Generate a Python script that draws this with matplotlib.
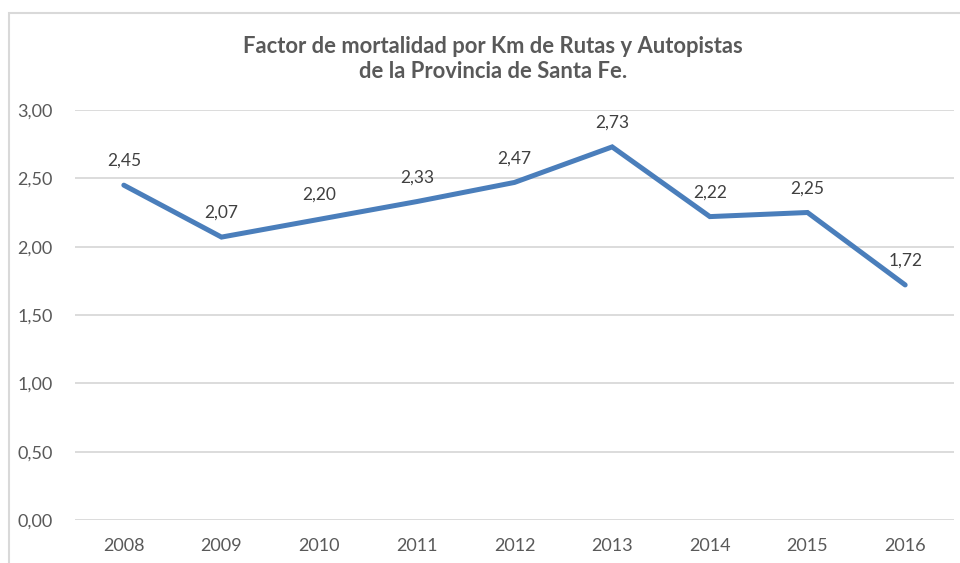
import matplotlib.pyplot as plt
from matplotlib.patches import Rectangle

# data
years = ['2008', '2009', '2010', '2011', '2012', '2013', '2014', '2015', '2016']
factor = [2.45, 2.07, 2.20, 2.33, 2.47, 2.73, 2.22, 2.25, 1.72]
y_ticks = [0.0, 0.5, 1.0, 1.5, 2.0, 2.5, 3.0]

plt.rcParams['font.family'] = ['Lato', 'DejaVu Sans']

fig = plt.figure(figsize=(9.6, 5.63), dpi=100)
ax = fig.add_axes([75 / 960, 1 - 520 / 563, 879 / 960, 410 / 563])

# chart frame (cut at the bottom and right like the screenshot)
fig.patches.append(Rectangle((8.5 / 960, -0.1), 1.0, 1 - 13.5 / 563 + 0.1,
                             transform=fig.transFigure, fill=False,
                             edgecolor='#d9d9d9', lw=1.5))

x = list(range(len(years)))
ax.plot(x, factor, color='#4a7ebb', lw=3.6, solid_capstyle='round',
        solid_joinstyle='miter')

for i, v in enumerate(factor):
    ax.annotate(('%.2f' % v).replace('.', ','), (i, v), xytext=(0, 17.5),
                textcoords='offset points', ha='center', va='center',
                fontsize=12.5, color='#404040')

ax.set_xlim(-0.5, len(years) - 0.5)
ax.set_ylim(0, 3.0)
ax.set_xticks(x)
ax.set_xticklabels(years)
ax.set_yticks(y_ticks)
ax.set_yticklabels([('%.2f' % t).replace('.', ',') for t in y_ticks])
ax.tick_params(length=0, labelsize=13, labelcolor='#595959')
ax.tick_params(axis='y', pad=16)
ax.tick_params(axis='x', pad=13)
ax.grid(axis='y', color='#d9d9d9', lw=1.3)
ax.set_axisbelow(True)
for s in ax.spines.values():
    s.set_visible(False)

fig.text(493 / 960, 1 - 59 / 563,
         'Factor de mortalidad por Km de Rutas y Autopistas\nde la Provincia de Santa Fe.',
         ha='center', va='center', fontsize=15.8, fontweight='bold',
         color='#595959', linespacing=1.25)

plt.savefig('out.png', dpi=100)
